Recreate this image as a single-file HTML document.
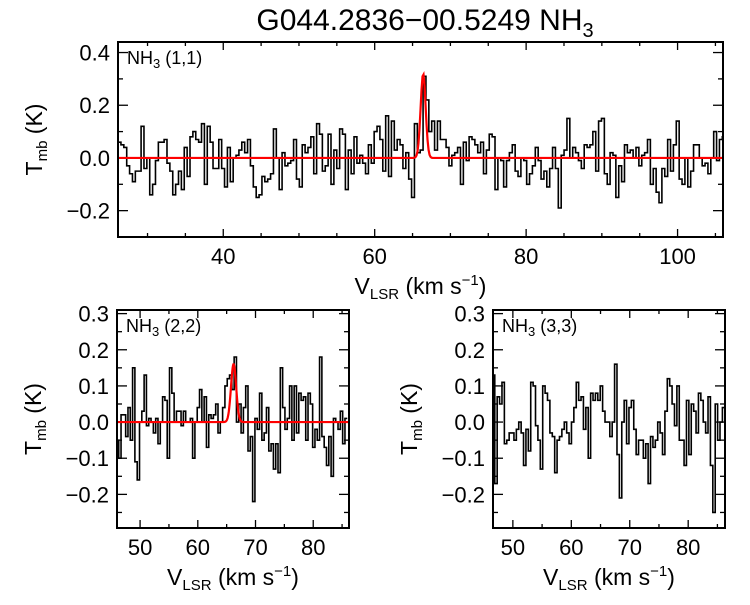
<!DOCTYPE html>
<html><head><meta charset="utf-8"><style>
body{margin:0;background:#fff}
svg text{font-family:"Liberation Sans",Arial,sans-serif;fill:#000}
</style></head><body>
<svg id="c" width="750" height="600" xmlns="http://www.w3.org/2000/svg">
<text x="425" y="30" font-size="30" text-anchor="middle">G044.2836−00.5249 NH<tspan font-size="20" dy="7">3</tspan></text>
</svg>
<script>
// NH3 (1,1) spectrum
const v11Start = 26.3, v11Step = 0.38;
const t11 = [
0.06,0.05,0.04,-0.03,-0.06,-0.09,-0.05,-0.05,0.12,-0.04,
0.0,-0.14,-0.1,-0.01,0.06,0.06,0.07,-0.02,-0.05,-0.14,
-0.1,-0.05,-0.12,0.04,-0.07,0.08,0.1,0.07,0.06,0.13,
-0.1,0.12,0.06,-0.04,-0.04,0.07,-0.04,-0.11,0.04,-0.09,
0.0,0.01,0.03,0.06,0.02,0.07,-0.03,-0.11,-0.15,-0.14,
-0.07,-0.09,-0.08,-0.06,0.11,0.0,-0.12,0.02,-0.03,-0.02,
-0.01,0.07,-0.08,-0.11,0.05,0.02,0.04,0.08,-0.06,0.13,
0.09,-0.05,-0.03,0.09,-0.1,0.03,-0.04,0.11,0.09,-0.12,
0.03,-0.06,0.08,-0.02,0.01,-0.02,-0.06,0.05,-0.02,0.1,
0.12,0.07,-0.05,0.16,-0.07,0.14,0.03,0.07,0.05,-0.04,
0.02,-0.08,-0.15,0.13,0.02,0.03,0.31,0.22,0.1,0.14,
0.03,0.14,0.07,0.07,0.04,-0.03,0.01,0.02,0.04,-0.1,
0.06,-0.01,0.08,0.07,0.05,0.02,0.06,-0.06,0.03,0.09,
0.08,-0.12,0.0,-0.01,-0.11,-0.01,0.02,0.05,-0.05,-0.07,
0.0,-0.01,-0.1,-0.06,-0.03,0.04,-0.01,-0.08,-0.05,-0.11,
-0.04,0.04,-0.04,-0.19,0.01,0.03,0.15,0.0,0.04,0.02,
-0.01,-0.04,0.05,0.04,0.05,0.1,-0.05,0.14,0.15,-0.06,
-0.1,0.02,0.01,-0.15,-0.03,-0.09,0.05,0.02,0.03,0.0,
0.04,-0.03,0.01,0.02,0.07,-0.1,-0.04,-0.13,-0.17,-0.04,
-0.07,0.07,-0.05,0.05,0.14,-0.08,-0.1,0.0,-0.11,-0.05,
0.05,0.05,0.0,-0.03,-0.02,-0.06,0.0,0.1,-0.01,0.07,0.08,-0.02,0.05];
const fit11 = {amp:0.32, center:66.4, sigma:0.33};
// NH3 (2,2) spectrum
const v22Start = 46.1, v22Step = 0.4;
const t22 = [
-0.05,-0.1,0.02,0.02,-0.04,0.04,-0.05,0.15,-0.11,-0.16,
0.0,0.03,0.13,-0.01,0.01,0.0,-0.03,0.01,-0.06,0.0,
0.07,0.06,-0.1,0.15,0.08,0.0,0.03,0.03,-0.01,0.03,
0.0,0.0,0.01,-0.1,0.0,0.04,0.09,0.0,0.07,-0.07,
0.02,0.01,0.02,0.05,-0.03,0.0,0.04,0.1,0.12,0.13,
0.09,0.18,0.0,0.05,-0.03,0.04,0.1,-0.08,-0.04,-0.22,
0.01,-0.02,0.08,-0.05,-0.03,0.04,-0.08,-0.06,-0.13,-0.06,
-0.14,0.15,0.04,-0.02,0.01,0.1,-0.05,0.1,-0.03,0.08,
0.06,0.07,-0.05,0.08,0.05,-0.07,-0.02,-0.05,0.18,-0.04,
-0.07,-0.12,-0.04,-0.15,0.01,0.0,-0.02,0.03,-0.06,0.01];
const fit22 = {amp:0.16, center:66.2, sigma:0.45};
// NH3 (3,3) spectrum
const v33Start = 46.7, v33Step = 0.41;
const t33 = [
0.13,-0.17,0.07,0.05,0.11,-0.06,-0.05,-0.03,-0.03,-0.05,
-0.02,0.0,-0.03,-0.12,-0.02,-0.08,0.11,0.1,-0.01,-0.05,
-0.13,0.1,0.08,0.06,-0.03,-0.04,-0.14,-0.05,-0.04,-0.02,
0.0,-0.03,-0.06,0.0,0.04,0.11,0.06,0.07,-0.02,0.04,
-0.1,0.08,0.06,0.08,0.06,0.1,0.03,0.0,0.0,-0.04,
0.0,0.16,-0.09,-0.21,0.0,0.06,-0.06,0.04,0.06,-0.02,
-0.09,-0.05,-0.05,-0.1,-0.06,-0.17,-0.04,-0.07,-0.05,0.0,
-0.03,-0.09,0.03,0.12,0.1,0.05,-0.01,0.1,-0.05,-0.05,
-0.12,0.06,-0.09,0.05,0.03,-0.03,0.08,0.06,0.0,-0.03,
0.07,-0.12,-0.25,0.05,-0.05,0.0,0.04,-0.02];
const ticks11X = [40,60,80,100], ticks11Y = [-0.2,0.0,0.2,0.4];
const ticksBX = [50,60,70,80], ticksBY = [-0.2,-0.1,0.0,0.1,0.2,0.3];

const NS='http://www.w3.org/2000/svg';
const svg=document.getElementById('c');
function mk(tag,attrs,parent){const e=document.createElementNS(NS,tag);for(const k in attrs)e.setAttribute(k,attrs[k]);(parent||svg).appendChild(e);return e;}

function panel(o){
  const g=mk('g',{});
  
  
  const sx=v=>o.L+(v-o.x0)/(o.x1-o.x0)*(o.R-o.L);
  const sy=v=>o.B-(v-o.y0)/(o.y1-o.y0)*(o.B-o.T);
  for(let v=Math.ceil(o.x0/o.xm)*o.xm; v<=o.x1; v+=o.xm){
    const major=o.xt.some(t=>Math.abs(t-v)<1e-6); const len=major?8:4;
    mk('line',{x1:sx(v),x2:sx(v),y1:o.B,y2:o.B-len,stroke:'#000','stroke-width':1.3},g);
    mk('line',{x1:sx(v),x2:sx(v),y1:o.T,y2:o.T+len,stroke:'#000','stroke-width':1.3},g);
  }
  for(let v=Math.ceil(o.y0/o.ym-1e-6)*o.ym; v<=o.y1+1e-9; v+=o.ym){
    const major=o.yt.some(t=>Math.abs(t-v)<1e-6); const len=major?10:5;
    mk('line',{x1:o.L,x2:o.L+len,y1:sy(v),y2:sy(v),stroke:'#000','stroke-width':1.3},g);
    mk('line',{x1:o.R,x2:o.R-len,y1:sy(v),y2:sy(v),stroke:'#000','stroke-width':1.3},g);
  }
  o.xt.forEach(v=>{const t=mk('text',{x:sx(v),y:o.B+27,'font-size':22,'text-anchor':'middle'},g);t.textContent=v;
    
    });
  o.yt.forEach(v=>{const t=mk('text',{x:o.L-8,y:sy(v)+8,'font-size':22,'text-anchor':'end'},g);t.textContent=(v<0?'−':'')+Math.abs(v).toFixed(1);
    
    });
  const cp=mk('clipPath',{id:'cp'+o.name},g); mk('rect',{x:o.L,y:o.T,width:o.R-o.L,height:o.B-o.T},cp);
  let d='';
  o.data.forEach((t,i)=>{const v=o.vs+i*o.dv;const xa=sx(v-o.dv/2),xb=sx(v+o.dv/2),y=sy(t);
    d+=(i?'L':'M')+xa.toFixed(2)+' '+y.toFixed(2)+'L'+xb.toFixed(2)+' '+y.toFixed(2);});
  const p=mk('path',{d:d,fill:'none',stroke:'#000','stroke-width':1.6,'clip-path':'url(#cp'+o.name+')'},g);
  
  
  if(o.fit){
    let fd='';for(let k=0;k<=600;k++){const v=o.x0+(o.x1-o.x0)*k/600;const y=o.fit.amp*Math.exp(-0.5*((v-o.fit.center)/o.fit.sigma)**2);
      fd+=(k?'L':'M')+sx(v).toFixed(2)+' '+sy(y).toFixed(2);}
    const f=mk('path',{d:fd,fill:'none',stroke:'#f00','stroke-width':2.2},g);
    
    
  }
  mk('rect',{x:o.L,y:o.T,width:o.R-o.L,height:o.B-o.T,fill:'none',stroke:'#000','stroke-width':2},g);
  const lb=mk('text',{x:o.L+9,y:o.T+22,'font-size':18},g);
  lb.innerHTML='NH<tspan font-size="13" dy="4">3</tspan><tspan dy="-4"> '+o.label+'</tspan>';
  
  
  const xl=mk('text',{x:(o.L+o.R)/2,y:o.B+57,'font-size':23,'text-anchor':'middle'},g);
  xl.innerHTML='V<tspan font-size="15" dy="5">LSR</tspan><tspan dy="-5"> (km s</tspan><tspan font-size="15" dy="-9">−1</tspan><tspan dy="9">)</tspan>';
  
  
  const cy=(o.T+o.B)/2, cx=o.L-76;
  const yl=mk('text',{x:cx,y:cy,'font-size':23,'text-anchor':'middle',transform:'rotate(-90 '+cx+' '+cy+')'},g);
  yl.innerHTML='T<tspan font-size="15" dy="5">mb</tspan><tspan dy="-5"> (K)</tspan>';
  
  
}
panel({name:'panel-nh3-11',L:118,R:723,T:42,B:237,x0:26.1,x1:106,y0:-0.3,y1:0.44,xm:5,ym:0.1,xt:ticks11X,yt:ticks11Y,data:t11,vs:v11Start,dv:v11Step,fit:fit11,label:'(1,1)'});
panel({name:'panel-nh3-22',L:117,R:349,T:310,B:528,x0:46,x1:86.2,y0:-0.293,y1:0.31,xm:5,ym:0.05,xt:ticksBX,yt:ticksBY,data:t22,vs:v22Start,dv:v22Step,fit:fit22,label:'(2,2)'});
panel({name:'panel-nh3-33',L:493,R:725,T:310,B:528,x0:46.6,x1:86.3,y0:-0.293,y1:0.31,xm:5,ym:0.05,xt:ticksBX,yt:ticksBY,data:t33,vs:v33Start,dv:v33Step,fit:null,label:'(3,3)'});
</script>
</body></html>
